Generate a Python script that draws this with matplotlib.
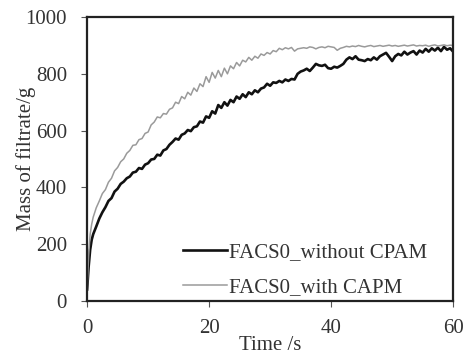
import numpy as np
import matplotlib
matplotlib.use("Agg")
import matplotlib.pyplot as plt

plt.rcParams['font.family'] = ['Liberation Serif', 'DejaVu Serif']

# early samples (s)
t_early = [0, 0.25, 0.5, 0.75]
black_early = [40, 120, 180, 215]
grey_early = [40, 160, 235, 270]

# samples every 0.5 s from 1 s to 60 s
black_main = [
    235, 262, 290, 312, 330, 352, 362, 385, 395, 412,
    420, 432, 438, 452, 455, 468, 465, 480, 485, 498,
    500, 515, 512, 530, 535, 550, 560, 572, 568, 585,
    590, 602, 598, 612, 615, 632, 628, 650, 645, 668,
    660, 690, 680, 700, 688, 708, 700, 720, 712, 728,
    718, 735, 728, 742, 735, 748, 752, 765, 758, 770,
    768, 775, 770, 780, 775, 782, 780, 800, 808, 812,
    818, 810, 822, 835, 830, 828, 832, 820, 818, 825,
    822, 828, 835, 850, 858, 852, 862, 850, 848, 845,
    852, 848, 858, 850, 862, 868, 874, 860, 845, 862,
    870, 865, 878, 868, 875, 880, 868, 882, 875, 888,
    878, 890, 882, 892, 880, 895, 885, 890, 878,
]
grey_main = [
    295, 328, 352, 378, 392, 418, 432, 458, 470, 490,
    500, 520, 530, 548, 550, 568, 572, 590, 595, 620,
    630, 648, 645, 660, 658, 675, 680, 700, 695, 720,
    712, 735, 725, 750, 738, 765, 755, 790, 770, 805,
    785, 812, 790, 820, 800, 828, 818, 840, 828, 848,
    842, 858, 848, 862, 855, 870, 865, 875, 870, 882,
    878, 890, 885, 892, 888, 893, 880, 888, 890, 892,
    890, 895, 893, 888, 893, 895, 892, 897, 895, 893,
    883, 890, 893, 897, 895, 898, 896, 900, 897, 895,
    898, 900, 896, 898, 900, 897, 899, 901, 898, 900,
    897, 899, 901, 898, 900, 902, 898, 900, 899, 901,
    897, 900, 902, 898, 900, 902, 899, 901, 900,
]

time_black = np.concatenate([t_early, 1 + 0.5 * np.arange(len(black_main))])
time_grey = np.concatenate([t_early, 1 + 0.5 * np.arange(len(grey_main))])
black = np.concatenate([black_early, black_main])
grey = np.concatenate([grey_early, grey_main])

labels = ["FACS0_without CPAM", "FACS0_with CAPM"]
x_ticks = [0, 20, 40, 60]
y_ticks = [0, 200, 400, 600, 800, 1000]

fig = plt.figure(figsize=(4.76, 3.56), dpi=100)
ax = fig.add_axes([0.183, 0.155, 0.769, 0.797])

ax.plot(time_black, black, color='#111111', lw=1.9, label=labels[0])
ax.plot(time_grey, grey, color='#9a9a9a', lw=1.1, label=labels[1])

ax.set_xlim(0, 60)
ax.set_ylim(0, 1000)
ax.set_xticks(x_ticks)
ax.set_yticks(y_ticks)
ax.tick_params(direction='out', length=4, width=0.8, colors='#555555',
               labelsize=15, labelcolor='#333333')
ax.tick_params(axis='x', pad=9)
ax.tick_params(axis='y', pad=10.5)
for s in ax.spines.values():
    s.set_linewidth(1.6)
    s.set_color('#222222')

ax.set_xlabel("Time /s", fontsize=15, color='#333333')
ax.set_ylabel("Mass of filtrate/g", fontsize=15, color='#333333')
ax.xaxis.set_label_coords(0.5, -0.125)
ax.yaxis.set_label_coords(-0.14, 0.5)

leg = ax.legend(loc='lower right', frameon=False, fontsize=15,
                handlelength=2.1, handletextpad=0.1, labelspacing=0.75,
                borderaxespad=0.0, borderpad=0.3,
                bbox_to_anchor=(0.945, -0.01))
for txt in leg.get_texts():
    txt.set_color('#333333')

fig.savefig("out.png", dpi=100)
